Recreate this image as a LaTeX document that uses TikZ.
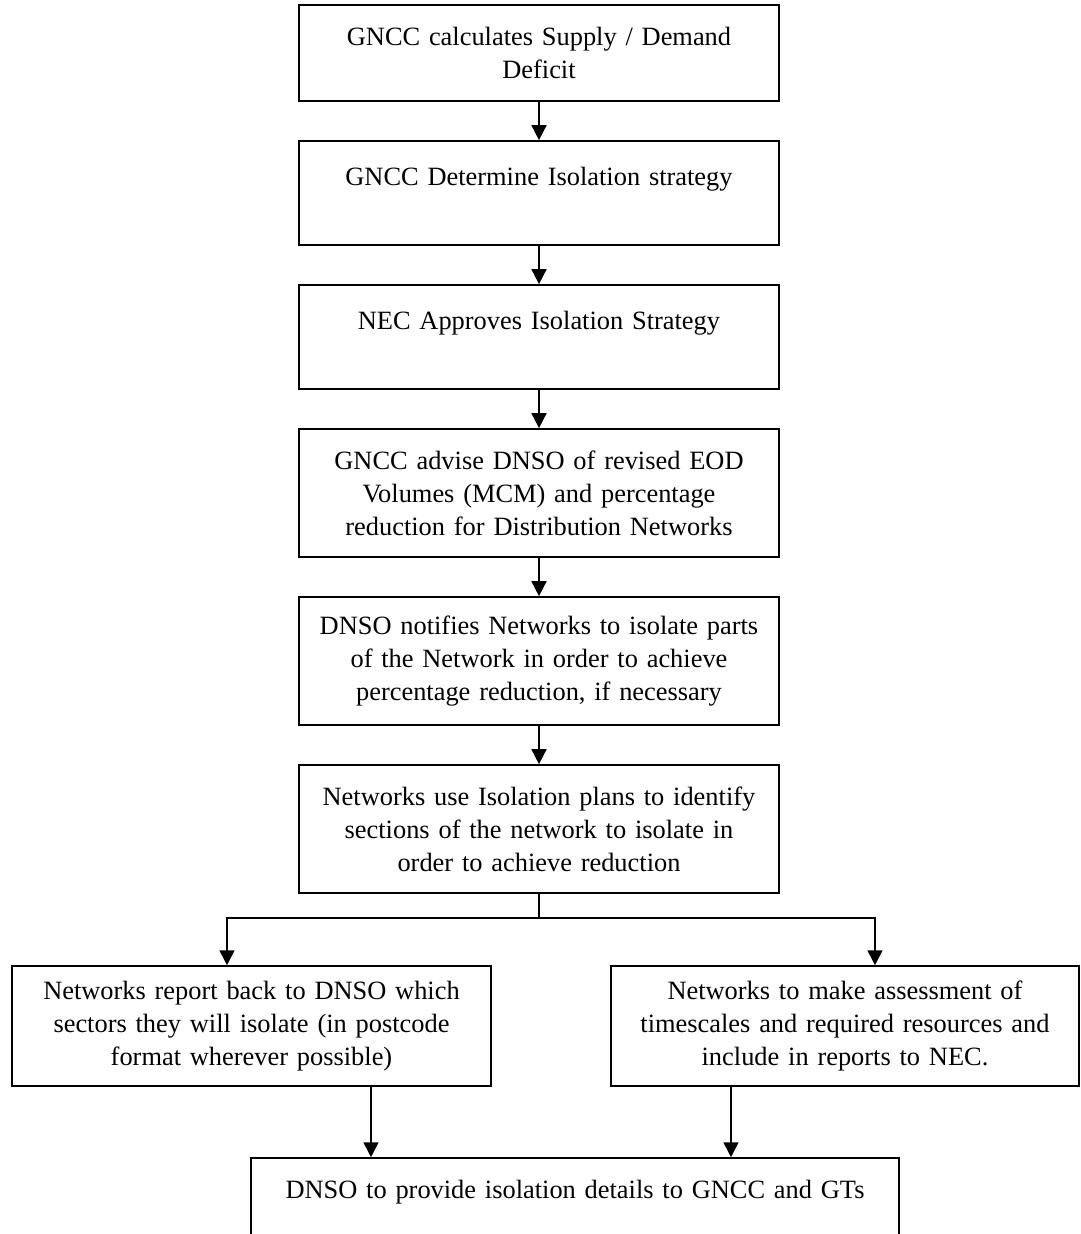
\documentclass[tikz,border=0pt]{standalone}
\usepackage{fontspec}
\setmainfont{Liberation Serif}
\usetikzlibrary{arrows.meta}
\tikzset{
  box/.style={draw, line width=0.75pt, inner sep=0pt, align=center,
    font=\fontsize{12}{15}\selectfont},
  wide/.style={text width=218.2pt},
}
\begin{document}
\begin{tikzpicture}[line width=0.75pt, >={Triangle[length=6.8pt,width=6.8pt]}, x=0.4545pt, y=-0.4545pt]
			\useasboundingbox (0,0) rectangle (1081,1234);
			\node[box, wide, minimum height=43.6pt] (deficit) at (539,53) {GNCC calculates Supply / Demand\\ Deficit};
			\node[box, wide, minimum height=47.3pt] (strategy) at (539,193) {GNCC Determine Isolation strategy\\ ~};
			\node[box, wide, minimum height=47.3pt] (approve) at (539,337) {NEC Approves Isolation Strategy\\ ~};
			\node[box, wide, minimum height=58.2pt] (advise) at (539,493) {GNCC advise DNSO of revised EOD\\ Volumes (MCM) and percentage\\ reduction for Distribution Networks};
			\node[box, wide, minimum height=58.2pt] (notify) at (539,661) {DNSO notifies Networks to isolate parts\\ of the Network in order to achieve\\ percentage reduction, if necessary};
			\node[box, wide, minimum height=58.2pt] (plans) at (539,829) {Networks use Isolation plans to identify\\ sections of the network to isolate in\\ order to achieve reduction};
			\node[box, text width=217.7pt, minimum height=54.5pt] (report) at (251.5,1026) {Networks report back to DNSO which\\ sectors they will isolate (in postcode\\ format wherever possible)};
			\node[box, text width=212.7pt, minimum height=54.5pt] (assess) at (845,1026) {Networks to make assessment of\\ timescales and required resources and\\ include in reports to NEC.};
			\node[box, text width=294.5pt, minimum height=43.6pt] (details) at (575,1206) {DNSO to provide isolation details to GNCC and GTs\\ ~};
			\foreach \a/\b in {deficit/strategy,strategy/approve,approve/advise,advise/notify,notify/plans}{\draw[->] (\a) -- (\b);}
			\coordinate (split) at (539,918);
			\draw (plans) -- (split);
			\draw[->] (split) -| (report.north -| 227,0);
			\draw[->] (split) -| (assess.north -| 875,0);
			\draw[->] (report.south -| 371,0) -- (details.north -| 371,0);
			\draw[->] (assess.south -| 731,0) -- (details.north -| 731,0);
	\end{tikzpicture}
\end{document}
